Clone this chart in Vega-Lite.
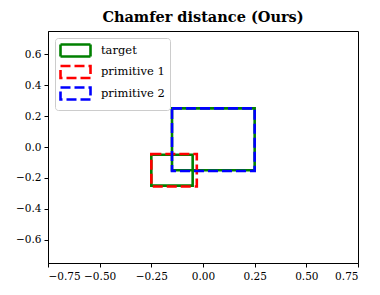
{
  "$schema": "https://vega.github.io/schema/vega-lite/v6.json",
  "width": 310,
  "height": 232,
  "autosize": {"type": "none"},
  "padding": {"left": 48, "top": 31, "right": 22, "bottom": 32},
  "background": "white",
  "title": {"text": "Chamfer distance (Ours)", "font": "DejaVu Serif", "fontSize": 14.5, "fontWeight": "bold", "color": "black", "offset": 6},
  "config": {
    "view": {"stroke": "black", "strokeWidth": 1},
    "axis": {"grid": false, "domainColor": "black", "tickColor": "black", "labelFont": "DejaVu Serif", "labelFontSize": 10.5, "labelColor": "black", "tickSize": 4, "title": null}
  },
  "data": {"values": [
    {"series": "target", "x": -0.15, "x2": 0.25, "y": -0.15, "y2": 0.25},
    {"series": "target", "x": -0.25, "x2": -0.05, "y": -0.25, "y2": -0.05},
    {"series": "primitive 1", "x": -0.25, "x2": -0.03, "y": -0.255, "y2": -0.045},
    {"series": "primitive 2", "x": -0.15, "x2": 0.25, "y": -0.155, "y2": 0.25}
  ]},
  "mark": {"type": "bar", "filled": false, "fill": null, "strokeWidth": 2.6},
  "encoding": {
    "x": {"field": "x", "type": "quantitative", "scale": {"domain": [-0.75, 0.75], "nice": false, "zero": false}, "axis": {"values": [-0.75, -0.5, -0.25, 0, 0.25, 0.5, 0.75], "format": ".2f", "labelPadding": 4}},
    "x2": {"field": "x2"},
    "y": {"field": "y", "type": "quantitative", "scale": {"domain": [-0.75, 0.75], "nice": false, "zero": false}, "axis": {"values": [-0.6, -0.4, -0.2, 0, 0.2, 0.4, 0.6], "format": ".1f", "labelPadding": 3}},
    "y2": {"field": "y2"},
    "color": {"field": "series", "type": "nominal", "scale": {"domain": ["target", "primitive 1", "primitive 2"], "range": ["green", "red", "blue"]},
      "legend": {"title": null, "orient": "top-left", "offset": 7, "fillColor": "white", "strokeColor": "#cccccc", "cornerRadius": 3, "padding": 5,
        "symbolType": "M-2.5,-1H2.5V1H-2.5Z", "symbolSize": 144, "symbolStrokeWidth": 2.6, "symbolFillColor": "transparent", "symbolOffset": 8,
        "labelFont": "DejaVu Serif", "labelFontSize": 11.5, "labelColor": "black", "labelOffset": 18, "rowPadding": -1.5}},
    "strokeDash": {"field": "series", "type": "nominal", "scale": {"domain": ["target", "primitive 1", "primitive 2"], "range": [[1, 0], [10, 4], [10, 4]]}}
  }
}
